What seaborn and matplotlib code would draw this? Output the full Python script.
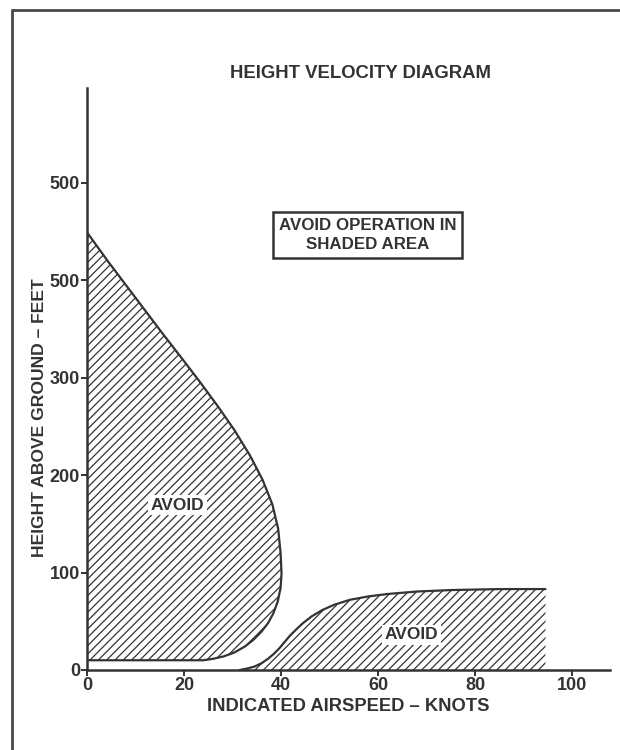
import matplotlib
matplotlib.use("Agg")
import matplotlib.pyplot as plt
import seaborn as sns
import pandas as pd
from matplotlib.lines import Line2D

# Left "avoid" region: outer boundary, airspeed (knots) vs height (feet), top to bottom
left_speed = [0, 4.2, 8.0, 11.8, 15.6, 19.5, 23.2, 26.9, 30.4, 33.6, 36.2, 38.2, 39.4, 39.9, 40.1, 39.9, 39.3, 38.4, 37.3, 35.9, 34.3, 32.5, 30.4, 28.2, 26.0, 24.0, 0]
left_height = [449, 420, 395, 370, 345, 320, 296, 271, 246, 220, 195, 170, 145, 120, 99, 84, 70, 58, 48, 39, 31, 24, 18, 14, 11.5, 10, 10]

# Right "avoid" region: upper boundary
right_speed = [31.5, 33.0, 34.5, 36.0, 37.3, 38.5, 39.6, 40.7, 41.8, 43.0, 44.5, 46.3, 48.5, 51.0, 54.2, 58.0, 62.0, 68.0, 75.0, 85.0, 94.5]
right_height = [0, 1.5, 3.5, 7, 11.5, 16.5, 22, 28.5, 35, 41, 48, 55, 61.5, 67, 72, 75.5, 78, 80.5, 82, 83, 83]

x_ticks = [0, 20, 40, 60, 80, 100]
y_ticks = [0, 100, 200, 300, 400, 500]
y_tick_labels = ["0", "100", "200", "300", "500", "500"]

ink = "#333333"

sns.set_style("ticks")
plt.rcParams["font.family"] = ["Liberation Sans", "DejaVu Sans"]
plt.rcParams["hatch.linewidth"] = 0.9
plt.rcParams["hatch.color"] = ink

fig = plt.figure(figsize=(6.2, 7.5), dpi=100)
ax = fig.add_axes([87 / 620, 1 - 670 / 750, (610 - 87) / 620, (670 - 88) / 750])

left = pd.DataFrame({"speed": left_speed, "height": left_height})
right = pd.DataFrame({"speed": right_speed, "height": right_height})

# hatched areas
ax.fill(left["speed"], left["height"], facecolor="white", edgecolor=ink,
        hatch="////", linewidth=0)
ax.fill_between(right["speed"], 0, right["height"], facecolor="white",
                edgecolor=ink, hatch="////", linewidth=0)

# outlines
sns.lineplot(data=left, x="speed", y="height", sort=False, estimator=None,
             color=ink, linewidth=1.6, ax=ax)
sns.lineplot(data=right, x="speed", y="height", sort=False, estimator=None,
             color=ink, linewidth=1.6, ax=ax)

ax.set_xlim(0, 107.8)
ax.set_ylim(0, 597)
ax.set_xticks(x_ticks)
ax.set_yticks(y_ticks)
ax.set_yticklabels(y_tick_labels)
sns.despine(ax=ax)
for s in ["left", "bottom"]:
    ax.spines[s].set_linewidth(1.8)
    ax.spines[s].set_color(ink)
ax.tick_params(axis="both", length=4.5, width=1.4, color=ink, labelcolor=ink,
               labelsize=13, pad=0.5)
for lab in ax.get_xticklabels() + ax.get_yticklabels():
    lab.set_fontweight("bold")

ax.set_xlabel("INDICATED AIRSPEED – KNOTS", fontsize=13.2, fontweight="bold",
              color=ink, labelpad=3)
ax.set_ylabel("HEIGHT ABOVE GROUND – FEET", fontsize=12.6, fontweight="bold",
              color=ink)
ax.yaxis.set_label_coords(-0.077, 0.433)

fig.text(360 / 620, 1 - 73 / 750, "HEIGHT VELOCITY DIAGRAM", ha="center",
         va="center", fontsize=13.3, fontweight="bold", color=ink)

ax.text(57.8, 446, "AVOID OPERATION IN\nSHADED AREA", ha="center", va="center",
        fontsize=12.2, fontweight="bold", color=ink, linespacing=1.3,
        bbox=dict(boxstyle="square,pad=0.35", facecolor="white",
                  edgecolor=ink, linewidth=1.8))

label_box = dict(boxstyle="square,pad=0.15", facecolor="white", edgecolor="none")
ax.text(18.6, 169, "AVOID", ha="center", va="center", fontsize=12.5,
        fontweight="bold", color=ink, bbox=label_box)
ax.text(66.8, 36, "AVOID", ha="center", va="center", fontsize=12.5,
        fontweight="bold", color=ink, bbox=label_box)

# page frame
fig.add_artist(Line2D([12 / 620, 1.0], [1 - 10 / 750, 1 - 10 / 750],
                      transform=fig.transFigure, color="#4a4a4a", linewidth=2))
fig.add_artist(Line2D([12 / 620, 12 / 620], [0, 1 - 10 / 750],
                      transform=fig.transFigure, color="#4a4a4a", linewidth=2))

fig.savefig("out.png", dpi=100)
